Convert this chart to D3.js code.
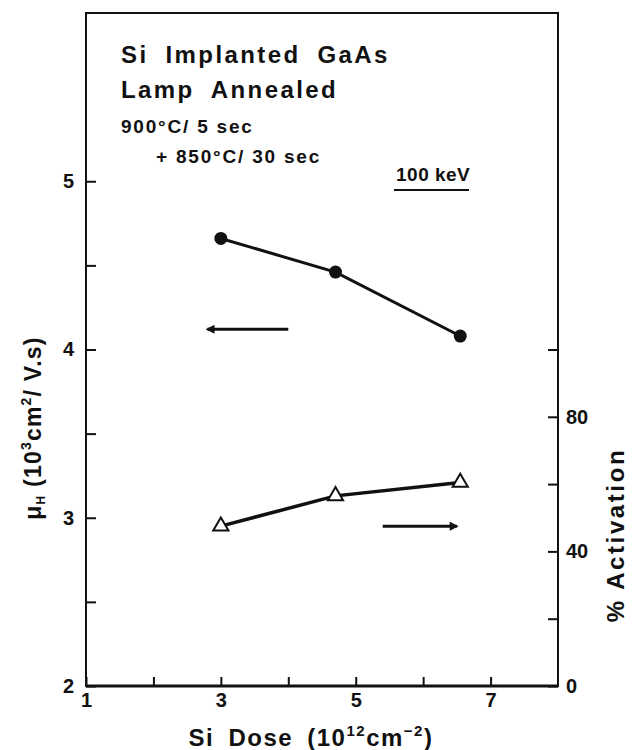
<!DOCTYPE html>
<meta charset="utf-8">
<style>
    body {margin: 0; background: #fff; font-family: "Liberation Sans", Arial, sans-serif;}
    text {font-weight: bold; fill: #111;}
</style>
<svg width="635" height="750"></svg>
<script src="https://d3js.org/d3.v7.min.js"></script>
<script>
  /**
   * ----------------------------------------------------------------------------------------------
   * data
   * ----------------------------------------------------------------------------------------------
   */
  const doses      = [3.0, 4.7, 6.55];       // Si dose, 10^12 cm^-2
  const mobility   = [4.66, 4.46, 4.08];     // mu_H, 10^3 cm^2/V.s (left axis)
  const activation = [47.5, 56.5, 60.5];     // % activation (right axis)

  const xTicks      = [1, 2, 3, 4, 5, 6, 7];
  const xTickLabels = [1, 3, 5, 7];
  const leftTicks      = [2, 2.5, 3, 3.5, 4, 4.5, 5];
  const leftTickLabels = [2, 3, 4, 5];
  const rightTicks      = [0, 20, 40, 60, 80, 100];
  const rightTickLabels = [0, 40, 80];

  /**
   *-----------------------------------------------------------------------------------------------
   * definitions
   *-----------------------------------------------------------------------------------------------
   **/
  var box = {left: 86, right: 558, top: 13, bottom: 686};
  var svg = d3.select("svg");

  var x = d3.scaleLinear().domain([1, 8]).range([box.left, box.right]);
  var yL = d3.scaleLinear().domain([2, 6]).range([box.bottom, box.top]);
  var yR = d3.scaleLinear().domain([0, 200]).range([box.bottom, box.top]);

  /**------------------------------------------------------------------------
   * axes (ticks point into the frame)
   **----------------------------------------------------------------------**/
  function styleAxis(g) {
    g.select(".domain").remove();
    g.selectAll("line").attr("stroke", "#111").attr("stroke-width", 2);
    g.selectAll("text").style("font-size", "20px").style("font-weight", "bold")
      .attr("fill", "#111");
  }

  svg.append("g")
    .attr("transform", "translate(" + box.left + ",0)")
    .call(d3.axisLeft(yL).tickValues(leftTicks).tickSize(-10).tickPadding(12)
      .tickFormat(function(d) { return leftTickLabels.includes(d) ? d : ""; }))
    .call(styleAxis);

  svg.append("g")
    .attr("transform", "translate(" + box.right + ",0)")
    .call(d3.axisRight(yR).tickValues(rightTicks).tickSize(-10).tickPadding(8)
      .tickFormat(function(d) { return rightTickLabels.includes(d) ? d : ""; }))
    .call(styleAxis);

  svg.append("g")
    .attr("transform", "translate(0," + box.bottom + ")")
    .call(d3.axisBottom(x).tickValues(xTicks).tickSize(-9).tickPadding(7)
      .tickFormat(function(d) { return xTickLabels.includes(d) ? d : ""; }))
    .call(styleAxis);

  /**------------------------------------------------------------------------
   * frame
   **----------------------------------------------------------------------**/
  svg.append("rect")
    .attr("x", box.left).attr("y", box.top)
    .attr("width", box.right - box.left).attr("height", box.bottom - box.top)
    .attr("fill", "none").attr("stroke", "#111").attr("stroke-width", 2);
  svg.append("line")
    .attr("x1", box.left).attr("x2", box.right)
    .attr("y1", box.bottom).attr("y2", box.bottom)
    .attr("stroke", "#111").attr("stroke-width", 3);

  /**------------------------------------------------------------------------
   * series
   **----------------------------------------------------------------------**/
  var mu = doses.map(function(d, i) { return [d, mobility[i]]; });
  var act = doses.map(function(d, i) { return [d, activation[i]]; });

  svg.append("path")
    .datum(mu)
    .attr("fill", "none").attr("stroke", "#111").attr("stroke-width", 3)
    .attr("d", d3.line().x(function(d) { return x(d[0]); }).y(function(d) { return yL(d[1]); }));
  svg.append("g").selectAll("circle")
    .data(mu).enter().append("circle")
      .attr("cx", function(d) { return x(d[0]); })
      .attr("cy", function(d) { return yL(d[1]); })
      .attr("r", 6.5).attr("fill", "#111");

  svg.append("path")
    .datum(act)
    .attr("fill", "none").attr("stroke", "#111").attr("stroke-width", 3.5)
    .attr("d", d3.line().x(function(d) { return x(d[0]); }).y(function(d) { return yR(d[1]); }));
  svg.append("g").selectAll("path")
    .data(act).enter().append("path")
      .attr("transform", function(d) { return "translate(" + x(d[0]) + "," + yR(d[1]) + ")"; })
      .attr("d", d3.symbol().type(d3.symbolTriangle).size(100))
      .attr("fill", "#fff").attr("stroke", "#111").attr("stroke-width", 2);

  /**------------------------------------------------------------------------
   * arrows showing which axis each curve belongs to
   **----------------------------------------------------------------------**/
  svg.append("defs").append("marker")
    .attr("id", "head").attr("viewBox", "0 0 10 10")
    .attr("refX", 8).attr("refY", 5)
    .attr("markerWidth", 4).attr("markerHeight", 3)
    .attr("orient", "auto")
    .append("path").attr("d", "M0,0 L10,5 L0,10 z").attr("fill", "#111");

  svg.append("line")
    .attr("x1", x(4.0)).attr("x2", x(2.8))
    .attr("y1", yL(4.12)).attr("y2", yL(4.12))
    .attr("stroke", "#111").attr("stroke-width", 3).attr("marker-end", "url(#head)");
  svg.append("line")
    .attr("x1", x(5.4)).attr("x2", x(6.5))
    .attr("y1", yR(47.5)).attr("y2", yR(47.5))
    .attr("stroke", "#111").attr("stroke-width", 3).attr("marker-end", "url(#head)");

  /**------------------------------------------------------------------------
   * annotation text
   **----------------------------------------------------------------------**/
  var note = svg.append("g");
  note.append("text").attr("x", 121).attr("y", 63)
    .style("font-size", "24px").style("letter-spacing", "2.4px").style("word-spacing", "8px")
    .text("Si Implanted GaAs");
  note.append("text").attr("x", 121).attr("y", 98)
    .style("font-size", "24px").style("letter-spacing", "2.4px").style("word-spacing", "8px")
    .text("Lamp Annealed");
  note.append("text").attr("x", 121).attr("y", 133)
    .style("font-size", "19px").style("letter-spacing", "1.8px")
    .text("900°C/ 5 sec");
  note.append("text").attr("x", 156).attr("y", 163)
    .style("font-size", "19px").style("letter-spacing", "1.8px")
    .text("+ 850°C/ 30 sec");
  note.append("text").attr("x", 396).attr("y", 181)
    .style("font-size", "19px").style("letter-spacing", "0.5px")
    .text("100 keV");
  note.append("line")
    .attr("x1", 394).attr("x2", 469).attr("y1", 190).attr("y2", 190)
    .attr("stroke", "#111").attr("stroke-width", 2);

  /**------------------------------------------------------------------------
   * axis titles
   **----------------------------------------------------------------------**/
  var xt = svg.append("text")
    .attr("x", 311).attr("y", 746).attr("text-anchor", "middle")
    .style("font-size", "24px").style("letter-spacing", "1.5px").style("word-spacing", "6px");
  xt.append("tspan").text("Si Dose (10");
  xt.append("tspan").attr("dy", -10).style("font-size", "15px").text("12");
  xt.append("tspan").attr("dy", 10).text("cm");
  xt.append("tspan").attr("dy", -10).style("font-size", "15px").text("−2");
  xt.append("tspan").attr("dy", 10).text(")");

  var yt = svg.append("text")
    .attr("transform", "translate(41,428) rotate(-90)")
    .attr("text-anchor", "middle")
    .style("font-size", "23px").style("letter-spacing", "1.2px");
  yt.append("tspan").text("μ");
  yt.append("tspan").attr("dy", 4).style("font-size", "12px").text("H");
  yt.append("tspan").attr("dy", -4).text(" (10");
  yt.append("tspan").attr("dy", -10).style("font-size", "14px").text("3");
  yt.append("tspan").attr("dy", 10).text("cm");
  yt.append("tspan").attr("dy", -10).style("font-size", "14px").text("2");
  yt.append("tspan").attr("dy", 10).text("/ V.s)");

  svg.append("text")
    .attr("transform", "translate(624,535) rotate(-90)")
    .attr("text-anchor", "middle")
    .style("font-size", "24px").style("letter-spacing", "2.6px")
    .text("% Activation");
</script>
